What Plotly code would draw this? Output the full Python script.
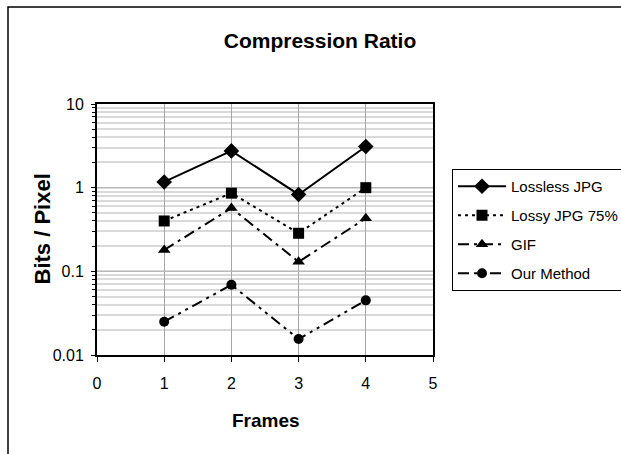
import plotly.graph_objects as go

frames = [1, 2, 3, 4]
lossless_jpg = [1.17, 2.75, 0.83, 3.1]
lossy_jpg_75 = [0.40, 0.86, 0.285, 1.0]
gif = [0.18, 0.57, 0.13, 0.43]
our_method = [0.025, 0.069, 0.0155, 0.045]

series_names = ["Lossless JPG", "Lossy JPG 75%", "GIF", "Our Method"]
y_tick_vals = [0.01, 0.1, 1, 10]
y_tick_text = ["0.01", "0.1", "1", "10"]
x_tick_vals = [0, 1, 2, 3, 4, 5]

FONT = "Liberation Sans, Arial, sans-serif"

styles = [
    dict(dash="solid", symbol="diamond", size=12),
    dict(dash="3px,4px", symbol="square", size=11),
    dict(dash="11px,5px,3px,5px", symbol="triangle-up", size=11),
    dict(dash="11px,5px,3px,5px,3px,5px", symbol="circle", size=10),
]

fig = go.Figure()
for i, (name, vals, st) in enumerate(zip(series_names, [lossless_jpg, lossy_jpg_75, gif, our_method], styles)):
    fig.add_trace(go.Scatter(
        x=frames, y=vals, name=name, mode="lines+markers", legendgroup=f"g{i}",
        line=dict(color="black", width=2, dash=st["dash"]),
        marker=dict(color="black", symbol=st["symbol"], size=st["size"]),
    ))

W, H = 621, 454
L, R, T, B = 97, 433, 104, 355

def px(x):
    return (x - L) / (R - L)

def py(y):
    return (B - y) / (B - T)

fig.update_layout(
    width=W, height=H,
    margin=dict(l=L, r=W - R, t=T, b=H - B, autoexpand=False),
    paper_bgcolor="white", plot_bgcolor="white",
    font=dict(family=FONT, color="black", size=16),
    title=dict(text="<b>Compression Ratio</b>", font=dict(size=21, family=FONT),
               x=320 / W, xanchor="center", xref="container",
               y=1 - 41 / H, yanchor="middle", yref="container"),
    showlegend=True,
    legend=dict(x=px(452), y=py(169), xanchor="left", yanchor="top",
                bordercolor="black", borderwidth=1, bgcolor="white",
                font=dict(size=15, family=FONT), itemwidth=48,
                tracegroupgap=6.5),
    xaxis=dict(range=[0, 5], tickvals=x_tick_vals, ticks="outside", ticklen=5,
               tickcolor="black", showgrid=True, gridcolor="#a6a6a6", gridwidth=1,
               showline=True, linecolor="black", linewidth=2, mirror=True,
               zeroline=False, tickfont=dict(size=16), ticklabelstandoff=8),
    yaxis=dict(type="log", range=[-2, 1], tickvals=y_tick_vals, ticktext=y_tick_text,
               ticks="outside", ticklen=4, tickcolor="black",
               showgrid=True, gridcolor="#b8b8b8", gridwidth=1,
               minor=dict(dtick="D1", showgrid=True, gridcolor="#d9d9d9", gridwidth=2,
                          ticks="outside", ticklen=3, tickcolor="black"),
               showline=True, linecolor="black", linewidth=2, mirror=True,
               zeroline=False, tickfont=dict(size=16), ticklabelstandoff=4),
    annotations=[
        dict(text="<b>Bits / Pixel</b>", xref="paper", yref="paper",
             x=px(42), y=py(229.5), xanchor="center", yanchor="middle",
             textangle=-90, showarrow=False, font=dict(size=22, family=FONT)),
        dict(text="<b>Frames</b>", xref="paper", yref="paper",
             x=px(266), y=py(420), xanchor="center", yanchor="middle",
             showarrow=False, font=dict(size=19, family=FONT)),
    ],
    shapes=[dict(type="rect", xref="paper", yref="paper",
                 x0=px(8), x1=px(660), y0=py(480), y1=py(7),
                 line=dict(color="black", width=1.5), fillcolor="rgba(0,0,0,0)",
                 layer="above")],
)

fig.write_html("out.html")
